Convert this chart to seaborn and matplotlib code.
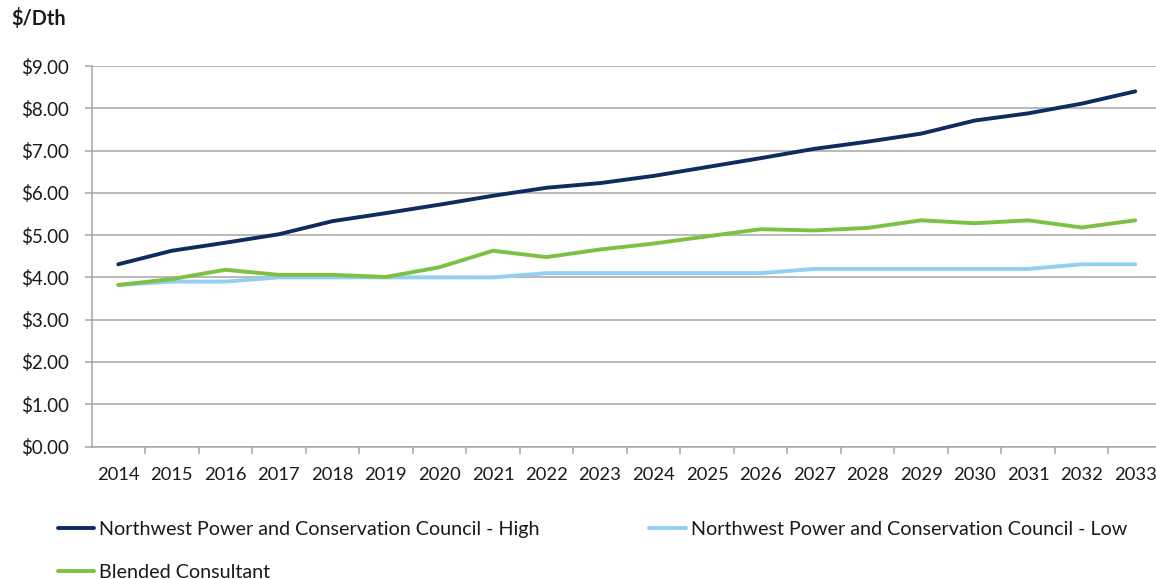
import matplotlib
matplotlib.use("Agg")
import matplotlib.pyplot as plt
import seaborn as sns
import pandas as pd
import numpy as np
from matplotlib.lines import Line2D

years = [str(y) for y in range(2014, 2034)]
high = [4.31, 4.63, 4.82, 5.02, 5.33, 5.52, 5.72, 5.93, 6.12, 6.23,
        6.40, 6.61, 6.82, 7.04, 7.21, 7.40, 7.71, 7.88, 8.11, 8.40]
low = [3.82, 3.90, 3.90, 4.00, 4.00, 4.00, 4.00, 4.00, 4.10, 4.10,
       4.10, 4.10, 4.10, 4.20, 4.20, 4.20, 4.20, 4.20, 4.31, 4.31]
blended = [3.82, 3.96, 4.18, 4.06, 4.06, 4.01, 4.24, 4.63, 4.48, 4.66,
           4.80, 4.97, 5.14, 5.11, 5.17, 5.35, 5.28, 5.35, 5.18, 5.35]
series_names = ["Northwest Power and Conservation Council - High",
                "Northwest Power and Conservation Council - Low",
                "Blended Consultant"]
colors = ["#0c2d5e", "#92cff2", "#7cc143"]
yticks = [0, 1, 2, 3, 4, 5, 6, 7, 8, 9]

rows = []
for name, vals in zip(series_names, [high, low, blended]):
    for i, (yr, v) in enumerate(zip(years, vals)):
        rows.append({"x": i, "year": yr, "value": v, "series": name})
df = pd.DataFrame(rows)

sns.set_theme(style="white")
plt.rcParams['font.family'] = ['Lato', 'DejaVu Sans']

W, H = 1156, 579
fig = plt.figure(figsize=(W / 100, H / 100), dpi=100)
left_px, right_px, top_px, bot_px = 91.5, 1162, 66, 446.5
ax = fig.add_axes([left_px / W, 1 - bot_px / H, (right_px - left_px) / W, (bot_px - top_px) / H])

sns.lineplot(data=df, x="x", y="value", hue="series", hue_order=series_names,
             palette=colors, linewidth=2.8, ax=ax, legend=False, sort=False)
for ln in ax.lines:
    ln.set_solid_capstyle('round')

ax.set_xlim(-0.5, len(years) - 0.5)
ax.set_ylim(0, 9)
ax.set_yticks(yticks)
ax.set_yticklabels([f"${v:.2f}" for v in yticks])
ax.yaxis.grid(True, color="#a6a6a6", linewidth=1.1)
ax.set_axisbelow(True)

ax.set_xticks(np.arange(len(years)) + 0.5)
ax.set_xticklabels([])
ax.set_xticks(np.arange(len(years)), minor=True)
ax.set_xticklabels(years, minor=True)
ax.tick_params(axis='x', which='major', length=5, color="#a6a6a6", width=1.1, direction='out', bottom=True)
ax.tick_params(axis='x', which='minor', length=0, pad=15, labelsize=13.2, labelcolor="#1a1a1a")
ax.tick_params(axis='y', length=5, color="#a6a6a6", width=1.1, direction='out', left=True,
               labelsize=13.5, labelcolor="#1a1a1a", pad=11)

for s in ["top", "right"]:
    ax.spines[s].set_visible(False)
for s in ["left", "bottom"]:
    ax.spines[s].set_color("#a6a6a6")
    ax.spines[s].set_linewidth(1.1)
ax.set_xlabel("")
ax.set_ylabel("")

fig.text(11 / W, 1 - 19 / H, "$/Dth", fontsize=14.3, fontweight="bold", color="#1a1a1a",
         ha="left", va="center")

handles = [Line2D([], [], color=c, linewidth=2.8) for c in colors]
order = [0, 2, 1]
fig.legend([handles[i] for i in order], [series_names[i] for i in order],
           loc="upper left", bbox_to_anchor=(58 / W, 1 - 521 / H), ncol=2, frameon=False,
           fontsize=14.2, handlelength=1.85, handletextpad=0.25, columnspacing=5.55,
           labelspacing=1.3, borderpad=0, borderaxespad=0, labelcolor="#1a1a1a")

fig.savefig("out.png", dpi=100)
